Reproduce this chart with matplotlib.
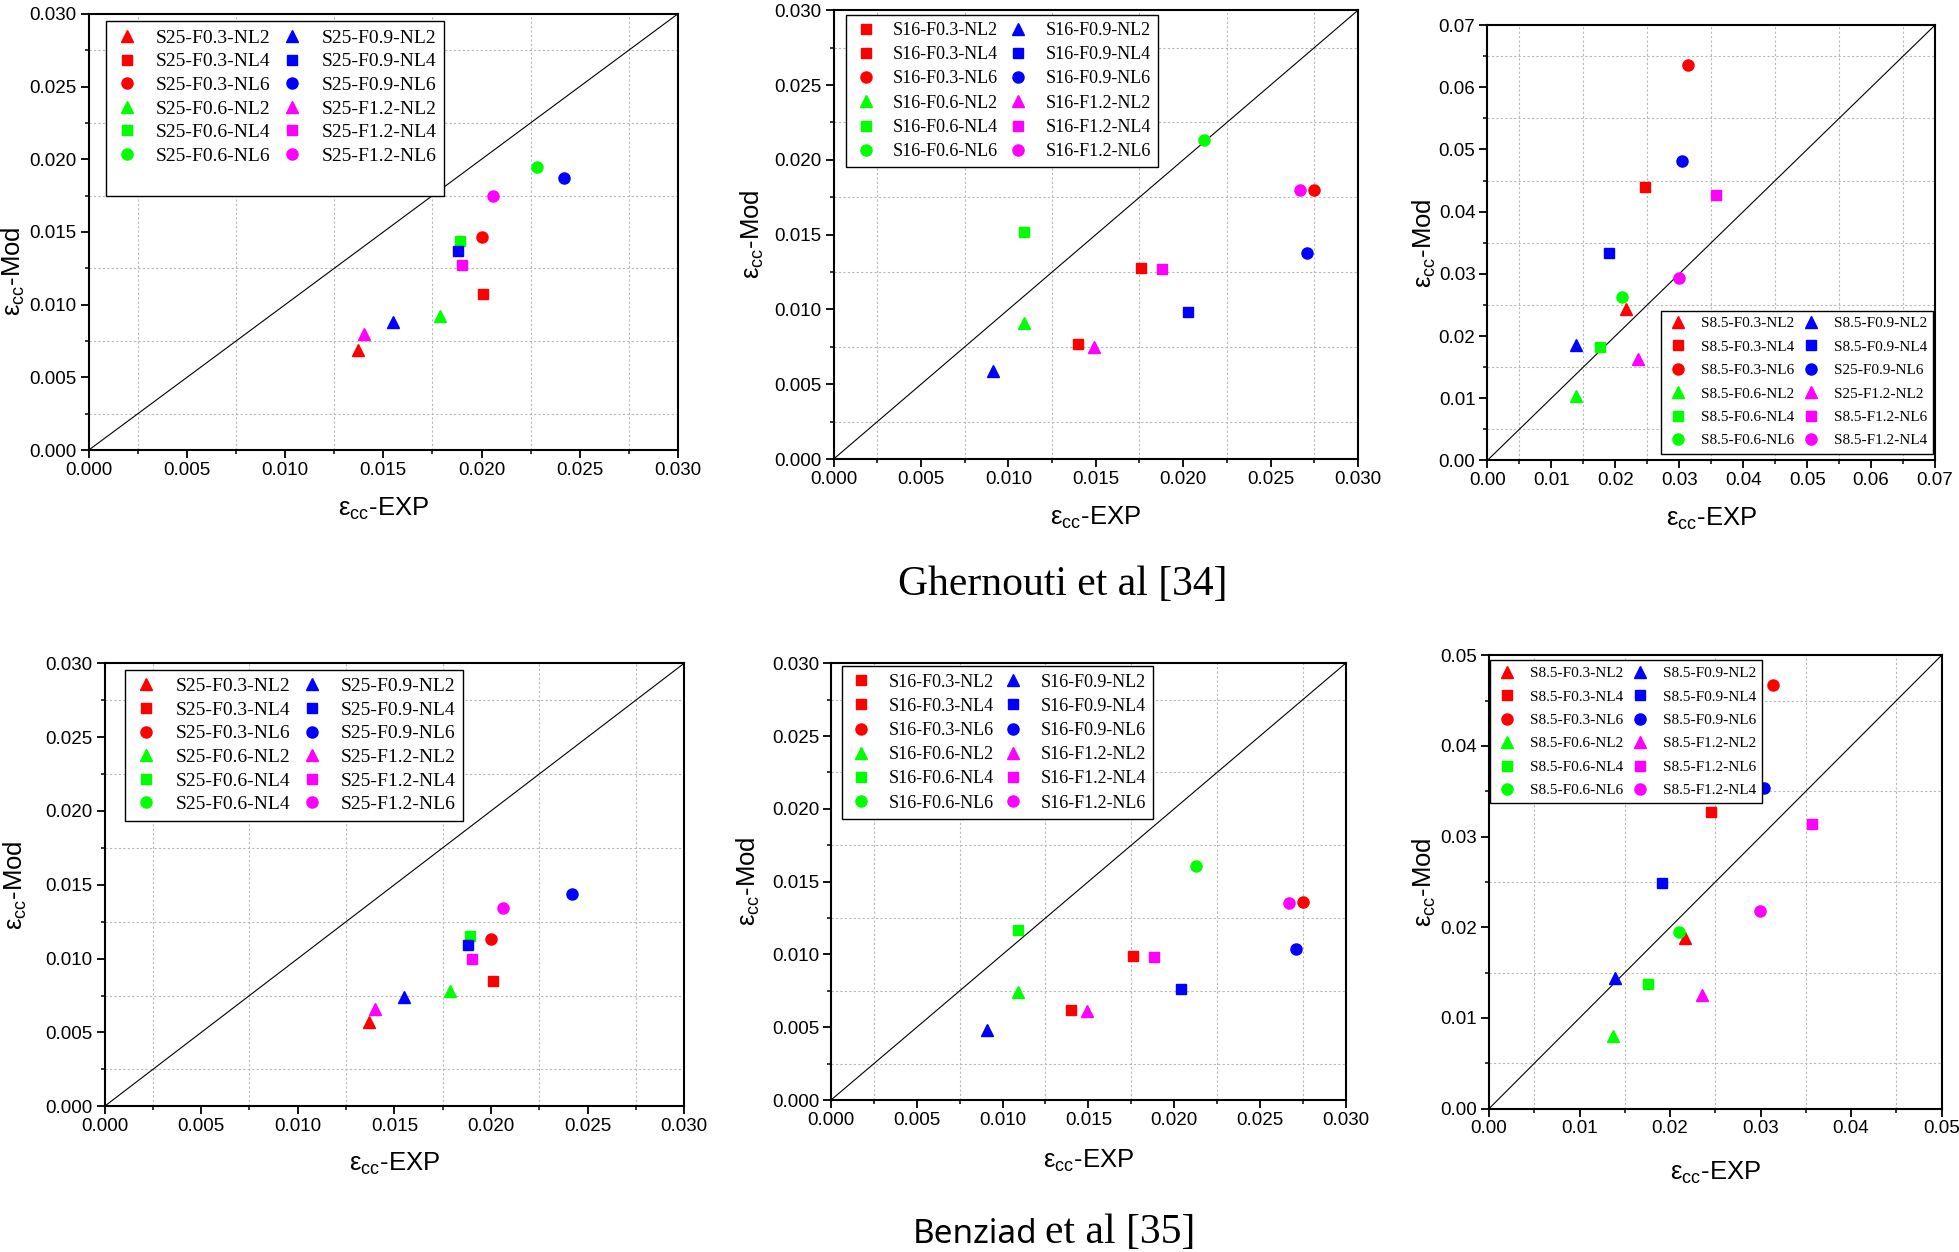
import numpy as np
import matplotlib
matplotlib.use('Agg')
import matplotlib.pyplot as plt
from matplotlib.lines import Line2D
from matplotlib.ticker import MultipleLocator, FormatStrFormatter

plt.rcParams['font.family'] = ['Liberation Sans', 'DejaVu Sans']
plt.rcParams['mathtext.fontset'] = 'custom'
plt.rcParams['mathtext.rm'] = 'Liberation Sans'
plt.rcParams['mathtext.it'] = 'Liberation Sans:italic'

# ---- data (eps_cc EXP vs eps_cc Mod), order: F0.3 NL2/4/6, F0.6, F0.9, F1.2
s25_labels = ['S25-F0.3-NL2', 'S25-F0.3-NL4', 'S25-F0.3-NL6',
              'S25-F0.6-NL2', 'S25-F0.6-NL4', 'S25-F0.6-NL6',
              'S25-F0.9-NL2', 'S25-F0.9-NL4', 'S25-F0.9-NL6',
              'S25-F1.2-NL2', 'S25-F1.2-NL4', 'S25-F1.2-NL6']
s25b_labels = ['S25-F0.3-NL2', 'S25-F0.3-NL4', 'S25-F0.3-NL6',
               'S25-F0.6-NL2', 'S25-F0.6-NL4', 'S25-F0.6-NL4',
               'S25-F0.9-NL2', 'S25-F0.9-NL4', 'S25-F0.9-NL6',
               'S25-F1.2-NL2', 'S25-F1.2-NL4', 'S25-F1.2-NL6']
s16_labels = ['S16-F0.3-NL2', 'S16-F0.3-NL4', 'S16-F0.3-NL6',
              'S16-F0.6-NL2', 'S16-F0.6-NL4', 'S16-F0.6-NL6',
              'S16-F0.9-NL2', 'S16-F0.9-NL4', 'S16-F0.9-NL6',
              'S16-F1.2-NL2', 'S16-F1.2-NL4', 'S16-F1.2-NL6']
s85a_labels = ['S8.5-F0.3-NL2', 'S8.5-F0.3-NL4', 'S8.5-F0.3-NL6',
               'S8.5-F0.6-NL2', 'S8.5-F0.6-NL4', 'S8.5-F0.6-NL6',
               'S8.5-F0.9-NL2', 'S8.5-F0.9-NL4', 'S25-F0.9-NL6',
               'S25-F1.2-NL2', 'S8.5-F1.2-NL6', 'S8.5-F1.2-NL4']
s85b_labels = ['S8.5-F0.3-NL2', 'S8.5-F0.3-NL4', 'S8.5-F0.3-NL6',
               'S8.5-F0.6-NL2', 'S8.5-F0.6-NL4', 'S8.5-F0.6-NL6',
               'S8.5-F0.9-NL2', 'S8.5-F0.9-NL4', 'S8.5-F0.9-NL6',
               'S8.5-F1.2-NL2', 'S8.5-F1.2-NL6', 'S8.5-F1.2-NL4']

# Ghernouti et al [34]
gh_s25_exp = [0.0137, 0.0201, 0.0200, 0.0179, 0.0189, 0.0228,
              0.0155, 0.0188, 0.0242, 0.0140, 0.0190, 0.0206]
gh_s25_mod = [0.0069, 0.01075, 0.01465, 0.0092, 0.0144, 0.0195,
              0.0088, 0.0137, 0.0187, 0.0080, 0.0127, 0.0175]
gh_s16_exp = [0.0140, 0.0176, 0.0275, 0.0109, 0.0109, 0.0212,
              0.0091, 0.0203, 0.0271, 0.0149, 0.0188, 0.0267]
gh_s16_mod = [0.0077, 0.0128, 0.0180, 0.0091, 0.0152, 0.0213,
              0.0059, 0.0098, 0.0138, 0.0075, 0.0127, 0.0180]
gh_s85_exp = [0.0217, 0.0246, 0.0314, 0.0138, 0.0176, 0.0211,
              0.0139, 0.0191, 0.0304, 0.0235, 0.0358, 0.0299]
gh_s85_mod = [0.0244, 0.0439, 0.0635, 0.0104, 0.0183, 0.0263,
              0.0186, 0.0333, 0.0481, 0.0163, 0.0427, 0.0294]

# Benziad et al [35]
bz_s25_exp = [0.0137, 0.0201, 0.0200, 0.0179, 0.0189, np.nan,
              0.0155, 0.0188, 0.0242, 0.0140, 0.0190, 0.0206]
bz_s25_mod = [0.0057, 0.0085, 0.0113, 0.0078, 0.0115, np.nan,
              0.0074, 0.0109, 0.0144, 0.0066, 0.0100, 0.0134]
bz_s16_exp = [0.0140, 0.0176, 0.0275, 0.0109, 0.0109, 0.0213,
              0.0091, 0.0204, 0.0271, 0.0149, 0.0188, 0.0267]
bz_s16_mod = [0.0062, 0.0099, 0.0136, 0.0074, 0.0117, 0.0161,
              0.0048, 0.0076, 0.0104, 0.0061, 0.0098, 0.0135]
bz_s85_exp = [0.0216, 0.0245, 0.0314, 0.0137, 0.0176, 0.0210,
              0.0139, 0.0191, 0.0304, 0.0235, 0.0357, 0.0299]
bz_s85_mod = [0.0188, 0.0327, 0.0467, 0.0080, 0.0137, 0.0195,
              0.0144, 0.0249, 0.0354, 0.0125, 0.0314, 0.0218]

# ---- styles
colors = ['#ff0000'] * 3 + ['#00ff00'] * 3 + ['#0000ff'] * 3 + ['#ff00ff'] * 3
mk_tsc = ['^', 's', 'o'] * 4
mk_ssc = ['s', 's', 'o'] + ['^', 's', 'o'] * 3
msize = {'^': 9, 's': 7, 'o': 8}

fig = plt.figure(figsize=(19.59, 12.52), dpi=100)


def panel(rect, xs, ys, labels, markers, lim, major, fmt,
          leg_loc, leg_anchor, leg_fs, ylab_x, ylab_y, xlab_y, blank=False):
    ax = fig.add_axes(rect)
    ax.set_xlim(0, lim)
    ax.set_ylim(0, lim)
    ax.xaxis.set_major_locator(MultipleLocator(major))
    ax.yaxis.set_major_locator(MultipleLocator(major))
    ax.xaxis.set_minor_locator(MultipleLocator(major / 2))
    ax.yaxis.set_minor_locator(MultipleLocator(major / 2))
    ax.xaxis.set_major_formatter(FormatStrFormatter(fmt))
    ax.yaxis.set_major_formatter(FormatStrFormatter(fmt))
    ax.grid(which='minor', color='#b8b8b8', linestyle=(0, (2, 2)), linewidth=0.8)
    ax.set_axisbelow(True)
    ax.tick_params(which='major', direction='out', length=5.5, width=1.3,
                   labelsize=13.5, pad=3)
    ax.tick_params(which='minor', direction='out', length=3, width=1.1)
    for sp in ax.spines.values():
        sp.set_linewidth(1.5)

    ax.plot([0, lim], [0, lim], color='black', lw=0.8, zorder=2)

    handles = []
    for i in range(len(labels)):
        h, = ax.plot([xs[i]], [ys[i]], ls='none', marker=markers[i],
                     ms=msize[markers[i]], color=colors[i], mec=colors[i],
                     label=labels[i], zorder=3)
        handles.append(h)
    labs = list(labels)
    if blank:
        empty = Line2D([], [], ls='none')
        handles = handles[:6] + [empty] + handles[6:] + [empty]
        labs = labs[:6] + [''] + labs[6:] + ['']
    leg = ax.legend(handles, labs, loc=leg_loc, bbox_to_anchor=leg_anchor,
                    ncol=2, borderaxespad=0, fancybox=False, framealpha=1,
                    edgecolor='black', borderpad=0.4, handlelength=1.4,
                    handletextpad=0.8, columnspacing=0.4,
                    labelspacing=16.9 / leg_fs - 0.9,
                    prop={'family': 'Liberation Serif', 'size': leg_fs})
    leg.get_frame().set_linewidth(1.0)

    ax.set_xlabel('ε$_{\\rm cc}$-EXP', fontsize=18.5)
    ax.set_ylabel('ε$_{\\rm cc}$-Mod', fontsize=18.5)
    ax.yaxis.set_label_coords(ylab_x, ylab_y)
    ax.xaxis.set_label_coords(0.5, xlab_y)
    ax.xaxis.label.set_va('top')
    return ax


# top row: Ghernouti et al
panel([0.0452, 0.6404, 0.3009, 0.3486], gh_s25_exp, gh_s25_mod, s25_labels,
      mk_tsc, 0.030, 0.005, '%.3f', 'upper left', (0.0288, 0.9826), 14,
      -0.1045, 0.409, -0.105, blank=True)
panel([0.4255, 0.6333, 0.2677, 0.3585], gh_s16_exp, gh_s16_mod, s16_labels,
      mk_ssc, 0.030, 0.005, '%.3f', 'upper left', (0.0242, 0.990), 13,
      -0.128, 0.5, -0.101)
panel([0.7592, 0.6322, 0.2286, 0.3478], gh_s85_exp, gh_s85_mod, s85a_labels,
      mk_tsc, 0.07, 0.01, '%.2f', 'lower right', (0.996, 0.0158), 11,
      -0.110, 0.5, -0.105)

# bottom row: Benziad et al
panel([0.0534, 0.1164, 0.2958, 0.3538], bz_s25_exp, bz_s25_mod, s25b_labels,
      mk_tsc, 0.030, 0.005, '%.3f', 'upper left', (0.0349, 0.9853), 14,
      -0.13, 0.5, -0.10)
panel([0.4242, 0.1214, 0.2627, 0.3488], bz_s16_exp, bz_s16_mod, s16_labels,
      mk_ssc, 0.030, 0.005, '%.3f', 'upper left', (0.0204, 0.993), 13,
      -0.134, 0.5, -0.109)
panel([0.7601, 0.1145, 0.2310, 0.3621], bz_s85_exp, bz_s85_mod, s85b_labels,
      mk_tsc, 0.05, 0.01, '%.2f', 'upper left', (0.002, 0.9887), 11,
      -0.112, 0.5, -0.112)

# group captions
fig.text(1063 / 1959, 1 - 595 / 1252, 'Ghernouti et al [34]', ha='center',
         va='baseline', fontsize=30, family='Liberation Serif')
fig.text(1037 / 1959, 1 - 1243 / 1252, 'Benziad', ha='right', va='baseline',
         fontsize=24, family='Noto Sans')
fig.text(1045 / 1959, 1 - 1243 / 1252, 'et al [35]', ha='left', va='baseline',
         fontsize=30, family='Liberation Serif')

fig.savefig('out.png', dpi=100)
